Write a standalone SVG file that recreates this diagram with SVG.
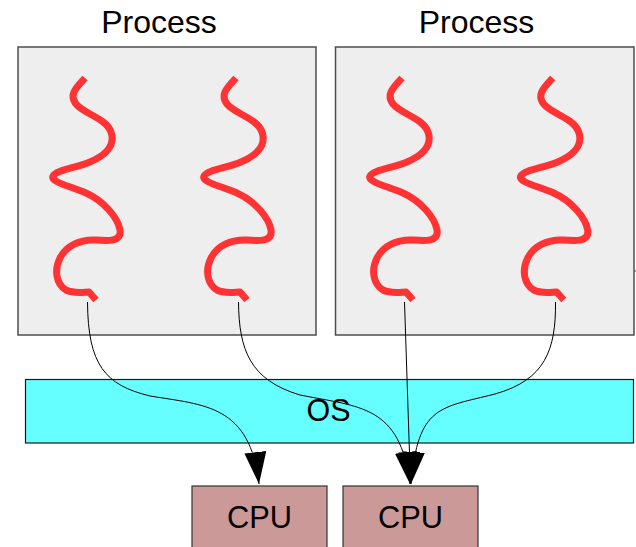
<svg xmlns="http://www.w3.org/2000/svg" xmlns:xlink="http://www.w3.org/1999/xlink" width="636" height="547" viewBox="0 0 636 547">
  <style>
    .label { font-family: "Liberation Sans", Arial, sans-serif; fill: #000; text-anchor: middle; }
    .process { fill: #eeeeee; stroke: #4d4d4d; stroke-width: 1.5; }
    .os { fill: #66ffff; stroke: #1a1a1a; stroke-width: 1.2; }
    .cpu { fill: #cc9999; stroke: #333333; stroke-width: 1.2; }
    .thread { fill: none; stroke: #ff3333; stroke-width: 7; stroke-linejoin: round; }
    .link { fill: none; stroke: #000; stroke-width: 1; marker-end: url(#arrow); }
  </style>
  <defs>
    <marker id="arrow" markerUnits="userSpaceOnUse" markerWidth="34" markerHeight="24" refX="32" refY="11" orient="auto">
      <path d="M0,0 L32,11 L0,22 z" fill="#000"/>
    </marker>
    <!-- one thread squiggle, drawn for the first thread and reused -->
    <path id="squiggle" class="thread" d="M85,78 C78,86 68,94 76,104 C84,114 106,118 111,132 C116,146 104,156 90,162 C76,168 56,170 53,176 C50,182 70,186 86,193 C104,201 118,218 120,230 C122,242 108,241 96,240 C80,239 66,246 60,258 C54,270 56,284 66,290 C74,294 84,292 89,292 L96,300"/>
  </defs>

  <g id="process-left">
    <rect class="process" x="18" y="47" width="298" height="288"/>
    <text class="label" x="159" y="33" font-size="32">Process</text>
    <use xlink:href="#squiggle"/>
    <use xlink:href="#squiggle" transform="translate(151,0)"/>
  </g>

  <g id="process-right">
    <rect class="process" x="335.5" y="47" width="298.5" height="288"/>
    <line x1="634" y1="271" x2="636" y2="271" stroke="#4d4d4d" stroke-width="1"/>
    <text class="label" x="476.5" y="33" font-size="32">Process</text>
    <use xlink:href="#squiggle" transform="translate(317,0)"/>
    <use xlink:href="#squiggle" transform="translate(467.7,0)"/>
  </g>

  <g id="os">
    <rect class="os" x="25.5" y="379.5" width="608" height="63.5"/>
    <text class="label" x="328.5" y="421" font-size="31" textLength="44" lengthAdjust="spacingAndGlyphs">OS</text>
  </g>

  <g id="cpu-1">
    <rect class="cpu" x="192" y="486" width="135" height="70"/>
    <text class="label" x="259.5" y="527.5" font-size="31" textLength="65" lengthAdjust="spacingAndGlyphs">CPU</text>
  </g>

  <g id="cpu-2">
    <rect class="cpu" x="343" y="486" width="135" height="70"/>
    <text class="label" x="410.5" y="527.5" font-size="31" textLength="65" lengthAdjust="spacingAndGlyphs">CPU</text>
  </g>

  <g id="connectors">
    <path class="link" d="M87.5,302 C88,365 105,385 150,396 C205,405 250,405 259,484"/>
    <path class="link" d="M238.5,302 C239,350 250,380 300,395 C360,407 400,405 410,484"/>
    <path class="link" d="M404.5,302 L410.5,484"/>
    <path class="link" d="M555.5,302 C556,350 545,380 495,394 C440,408 418,405 411,484"/>
  </g>
</svg>
